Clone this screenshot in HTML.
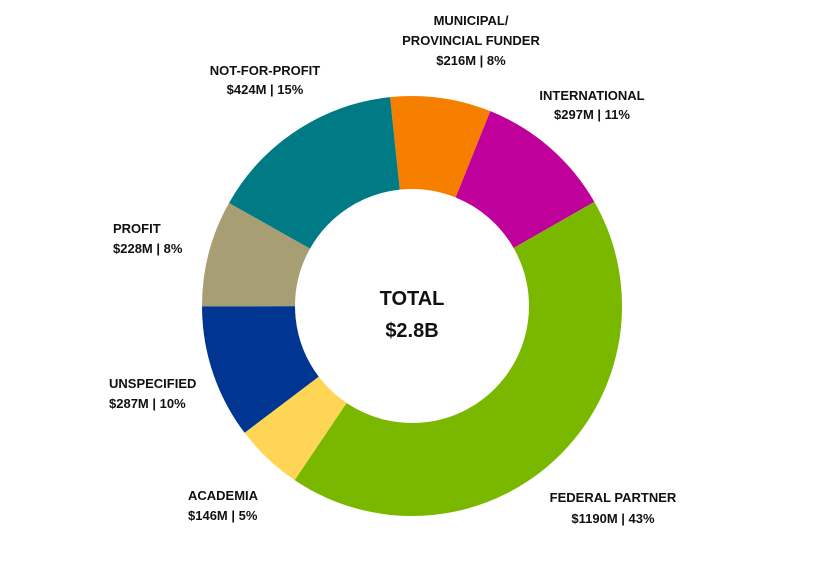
<!DOCTYPE html>
<html><head><style>
body{margin:0;background:#fff;}
svg text{font-family:"Liberation Sans",Arial,sans-serif;font-weight:bold;font-size:13px;fill:#111;}
</style></head><body>
<svg width="824" height="560" xmlns="http://www.w3.org/2000/svg">
<g transform="rotate(-96 412 306)" fill="none" stroke-width="93">
<circle cx="412" cy="306" r="163.5" stroke="#f77f00" stroke-dasharray="79.6 1100" stroke-dashoffset="0"/>
<circle cx="412" cy="306" r="163.5" stroke="#c0009a" stroke-dasharray="109.4 1100" stroke-dashoffset="-79.6"/>
<circle cx="412" cy="306" r="163.5" stroke="#7ab800" stroke-dasharray="438.5 1100" stroke-dashoffset="-189"/>
<circle cx="412" cy="306" r="163.5" stroke="#ffd555" stroke-dasharray="53.8 1100" stroke-dashoffset="-627.5"/>
<circle cx="412" cy="306" r="163.5" stroke="#003591" stroke-dasharray="105.8 1100" stroke-dashoffset="-681.3"/>
<circle cx="412" cy="306" r="163.5" stroke="#a89e74" stroke-dasharray="84 1100" stroke-dashoffset="-787.1"/>
<circle cx="412" cy="306" r="163.5" stroke="#007b86" stroke-dasharray="156.3 1100" stroke-dashoffset="-871.1"/>
</g>
<g stroke="#fff" stroke-width="1.5" fill="none">
</g>
<text x="412" y="305" text-anchor="middle" style="font-size:20px">TOTAL</text>
<text x="412" y="337" text-anchor="middle" style="font-size:20px">$2.8B</text>
<g text-anchor="middle">
<text x="471" y="25">MUNICIPAL/</text>
<text x="471" y="45">PROVINCIAL FUNDER</text>
<text x="471" y="65">$216M | 8%</text>
<text x="265" y="75">NOT-FOR-PROFIT</text>
<text x="265" y="94">$424M | 15%</text>
<text x="592" y="100">INTERNATIONAL</text>
<text x="592" y="119">$297M | 11%</text>
<text x="613" y="502">FEDERAL PARTNER</text>
<text x="613" y="523">$1190M | 43%</text>
</g>
<text x="113" y="233">PROFIT</text>
<text x="113" y="253">$228M | 8%</text>
<text x="109" y="388">UNSPECIFIED</text>
<text x="109" y="408">$287M | 10%</text>
<text x="188" y="500">ACADEMIA</text>
<text x="188" y="520">$146M | 5%</text>
</svg>
</body></html>
